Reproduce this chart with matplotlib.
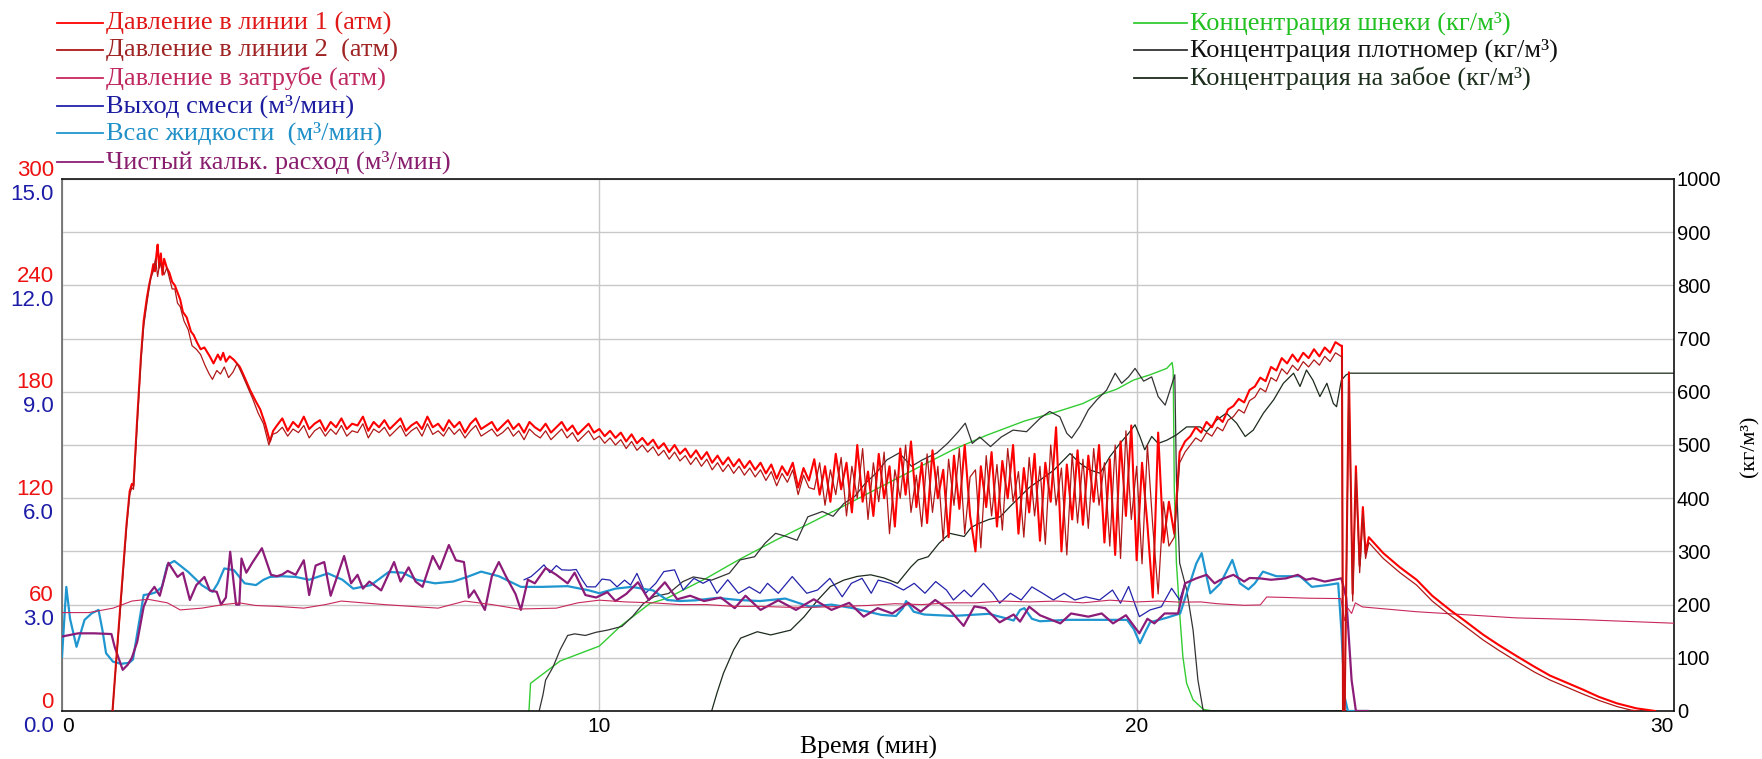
import numpy as np
import matplotlib.pyplot as plt
from matplotlib.lines import Line2D
from matplotlib import transforms

# ---- давление в линии 1 (атм) ----
p1_rise_t = [0.94, 1.0, 1.1, 1.2, 1.26, 1.3, 1.33, 1.4, 1.47, 1.52,
             1.58, 1.62, 1.67, 1.7, 1.73, 1.76, 1.78, 1.81, 1.84, 1.87,
             1.9, 1.95, 2.0, 2.05, 2.1, 2.15, 2.2, 2.25, 2.32, 2.4,
             2.45, 2.51, 2.58, 2.65, 2.75, 2.82, 2.9, 2.95, 3.0, 3.05,
             3.12, 3.2, 3.31, 3.4, 3.5, 3.6, 3.69, 3.78, 3.87, 3.93]
p1_rise = [0, 25, 65, 105, 124, 128, 127, 165, 200, 220,
           233, 240, 247, 252, 248, 258, 263, 250, 258, 246,
           255, 250, 247, 242, 240, 236, 232, 225, 222, 214,
           212, 208, 204, 205, 200, 196, 201, 198, 202, 197,
           200, 198, 194, 188, 181, 175, 170, 162, 152, 158]

# 4.0 ... 23.8 мин, шаг 0.1
p_mid_t = np.round(np.arange(4.0, 23.85, 0.1), 2)
p1_mid = [161, 165, 158, 163, 160, 166, 159, 162, 164, 158,
          163, 160, 165, 159, 162, 161, 166, 158, 163, 160,
          164, 159, 162, 165, 158, 161, 163, 159, 166, 160,
          162, 158, 164, 160, 163, 157, 162, 165, 159, 161,
          163, 158, 161, 164, 159, 162, 157, 163, 160, 158,
          162, 157, 160, 163, 158, 161, 156, 159, 162, 157,
          159, 155, 158, 154, 157, 152, 156, 151, 154, 150,
          153, 148, 151, 146, 150, 145, 148, 143, 147, 142,
          146, 140, 144, 139, 143, 138, 142, 137, 141, 136,
          140, 134, 139, 131, 138, 133, 140, 126, 137, 130,
          142, 122, 138, 118, 145, 125, 140, 112, 150, 118,
          135, 110, 145, 120, 138, 104, 148, 122, 152, 115,
          140, 106, 147, 120, 136, 98, 144, 114, 150, 110,
          90, 138, 115, 146, 104, 141, 120, 150, 100, 137,
          112, 145, 96, 140, 118, 160, 90, 139, 108, 147,
          105, 144, 118, 150, 95, 142, 88, 152, 110, 161,
          85, 140, 105, 64, 157, 95, 118, 100,
          146, 152, 155, 160, 157, 163, 160, 166, 163, 170,
          172, 176, 174, 181, 183, 188, 186, 194, 192, 199,
          196, 201, 197, 202, 199, 204, 200, 205, 202, 208, 206]

p1_tail_t = [23.82, 23.84, 23.87, 23.95, 24.02, 24.08, 24.15, 24.21, 24.26, 24.32,
             24.59, 24.9, 25.21, 25.5, 25.83, 26.1, 26.45, 26.75, 27.07, 27.4,
             27.69, 28.0, 28.31, 28.6, 28.94, 29.3, 29.65]
p1_tail = [206, 0, 0, 191, 66, 138, 82, 115, 89, 98,
           89, 81, 74, 65, 57, 51, 43, 37, 31, 25,
           20, 16, 12, 8, 4.3, 1.5, 0]

# ---- давление в линии 2 (атм) ----
p2_rise_t = [0.94, 1.0, 1.1, 1.2, 1.26, 1.3, 1.33, 1.4, 1.47, 1.52,
             1.58, 1.65, 1.7, 1.74, 1.78, 1.82, 1.86, 1.9, 1.95, 2.0,
             2.05, 2.1, 2.15, 2.2, 2.27, 2.35, 2.42, 2.5, 2.58, 2.66,
             2.74, 2.8, 2.88, 2.95, 3.02, 3.1, 3.18, 3.26, 3.35, 3.45,
             3.55, 3.65, 3.75, 3.85, 3.92]
p2_rise = [0, 24, 63, 103, 122, 126, 125, 162, 198, 217,
           230, 244, 248, 255, 245, 253, 250, 246, 250, 244,
           238, 238, 230, 228, 220, 215, 206, 204, 201, 195,
           190, 187, 192, 190, 194, 188, 191, 196, 190, 183,
           176, 168, 162, 150, 156]
p2_mid = [157, 160, 155, 159, 157, 161, 154, 158, 160, 155,
          159, 156, 161, 155, 158, 157, 162, 154, 159, 157,
          160, 155, 158, 161, 155, 158, 160, 155, 162, 156,
          158, 155, 160, 156, 159, 154, 158, 161, 155, 157,
          159, 155, 157, 160, 155, 158, 153, 159, 156, 154,
          158, 153, 156, 159, 154, 157, 152, 155, 158, 153,
          155, 151, 154, 150, 153, 148, 152, 147, 150, 146,
          149, 144, 147, 142, 146, 141, 144, 139, 143, 138,
          142, 136, 140, 135, 139, 134, 138, 133, 137, 132,
          136, 130, 135, 127, 134, 129, 136, 122, 133, 126,
          125, 140, 116, 136, 122, 143, 110, 138, 120, 148,
          108, 140, 118, 146, 100, 136, 120, 150, 112, 133,
          104, 145, 112, 138, 96, 142, 116, 148, 100, 132,
          136, 92, 144, 110, 139, 102, 148, 118, 135, 98,
          143, 110, 138, 94, 150, 116, 137, 88, 145, 106,
          142, 103, 148, 116, 140, 93, 150, 86, 158, 108,
          138, 83, 150, 104, 66, 118, 93, 98,
          140, 146, 150, 154, 152, 157, 155, 160, 158, 164,
          166, 170, 168, 175, 177, 182, 180, 188, 186, 193,
          190, 195, 192, 197, 194, 198, 195, 200, 197, 202, 200]
p2_tail_t = [23.82, 23.84, 23.87, 23.95, 24.02, 24.08, 24.15, 24.21, 24.26, 24.32,
             24.59, 24.9, 25.21, 25.5, 25.83, 26.1, 26.45, 26.75, 27.07, 27.4,
             27.69, 28.0, 28.31, 28.6, 28.94, 29.2, 29.35]
p2_tail = [200, 0, 0, 186, 62, 134, 78, 111, 86, 95,
           86, 78, 71, 62, 54, 48, 40, 34, 28, 22,
           17.5, 13.5, 9.5, 6, 2.5, 0.5, 0]

# ---- давление в затрубе (атм) ----
ann_t = [0, 0.5, 0.95, 1.3, 1.6, 1.96, 2.2, 2.6, 3.0, 3.3, 3.6, 4.0, 4.5, 4.9, 5.2,
         5.6, 6.0, 6.5, 7.0, 7.5, 8.0, 8.5, 9.2, 9.6, 10.0, 10.5, 11.0, 11.5, 12.0,
         12.5, 13.0, 13.5, 14.0, 14.5, 15.0, 15.5, 16.0, 16.5, 17.0, 17.5, 18.0,
         18.5, 19.0, 19.5, 20.0, 20.4, 20.8, 21.2, 21.5, 22.0, 22.3, 22.42, 22.8,
         23.2, 23.8, 23.87, 23.93, 24.0, 24.07, 24.2, 25.2, 26.0, 27.07, 28.3, 30.0]
ann_p = [55.5, 55.5, 58, 62, 63, 61, 57, 58, 60, 61, 59.5, 59, 58, 60, 62,
         61, 60, 59, 58, 62, 60, 57.5, 58, 61, 62.5, 61.5, 61, 60, 60,
         59, 59, 58.5, 58.5, 59, 59.5, 60.5, 60, 61, 61, 62, 61.5,
         62, 61, 62.5, 61.5, 62, 61.4, 61.5, 60.5, 59.6, 59.8, 64.3, 64,
         63.6, 63.4, 51, 58, 55, 61, 58.7, 56, 54.5, 52.5, 51.5, 49.5]

# ---- выход смеси (м3/мин) ----
mix_t = [8.6, 8.73, 8.85, 8.97, 9.08, 9.2, 9.3, 9.45, 9.57, 9.68, 9.77, 9.93, 10.05,
         10.2, 10.33, 10.47, 10.58, 10.7, 10.86, 11.05, 11.2, 11.4, 11.56, 11.76,
         11.93, 12.05, 12.19, 12.39, 12.59, 12.79, 12.99, 13.13, 13.33, 13.59,
         13.86, 14.06, 14.29, 14.52, 14.69, 14.89, 15.06, 15.19, 15.42, 15.66,
         15.86, 16.06, 16.26, 16.46, 16.59, 16.79, 16.92, 17.15, 17.32, 17.45,
         17.65, 17.85, 18.05, 18.25, 18.45, 18.65, 18.85, 19.05, 19.31, 19.55,
         19.7, 19.85, 20.05, 20.25, 20.46, 20.65, 20.8, 20.9]
mix_q = [3.7, 3.79, 3.95, 4.12, 3.9, 4.1, 3.98, 3.97, 3.99, 3.7, 3.5, 3.5, 3.72,
         3.69, 3.5, 3.69, 3.55, 3.88, 3.32, 3.6, 3.93, 3.98, 3.41, 3.74,
         3.6, 3.7, 3.32, 3.7, 3.32, 3.5, 3.32, 3.6, 3.32, 3.79,
         3.32, 3.41, 3.74, 3.22, 3.6, 3.74, 3.32, 3.69, 3.6, 3.41,
         3.6, 3.32, 3.65, 3.41, 3.13, 3.41, 3.22, 3.6, 3.32, 3.04,
         3.32, 3.13, 3.5, 3.32, 3.13, 3.32, 3.13, 3.22, 3.13, 3.41,
         3.04, 3.51, 2.66, 2.85, 2.94, 3.46, 3.13, 3.6]

# ---- всас жидкости (м3/мин) ----
suc_t = [0.0, 0.08, 0.15, 0.27, 0.42, 0.55, 0.68, 0.75, 0.82, 0.95, 1.1, 1.25, 1.32,
         1.41, 1.52, 1.65, 1.75, 1.86, 1.96, 2.09, 2.2, 2.35, 2.5, 2.6, 2.8, 2.9,
         3.02, 3.2, 3.4, 3.61, 3.75, 3.87, 4.1, 4.35, 4.6, 4.95, 5.22, 5.42, 5.75,
         6.08, 6.34, 6.6, 6.94, 7.28, 7.54, 7.8, 8.13, 8.54, 8.94, 9.41, 9.81, 10.0,
         10.3, 10.6, 11.0, 11.26, 11.5, 11.79, 12.19, 12.59, 12.99, 13.46, 13.92,
         14.32, 14.72, 15.25, 15.52, 15.65, 15.71, 15.85, 16.05, 16.58, 17.25, 17.6,
         17.71, 17.83, 17.91, 18.05, 18.2, 18.7, 19.32, 19.82, 19.95, 20.06, 20.15,
         20.25, 20.56, 20.81, 20.99, 21.11, 21.21, 21.3, 21.37, 21.56, 21.78, 21.92,
         22.08, 22.2, 22.35, 22.6, 23.04, 23.26, 23.54, 23.75, 23.81, 23.87, 23.93, 24.3]
suc_q = [1.53, 3.5, 2.6, 1.81, 2.57, 2.75, 2.85, 2.3, 1.63, 1.39, 1.33, 1.36, 1.45,
         2.28, 3.27, 3.3, 3.35, 3.5, 4.12, 4.23, 4.1, 3.92, 3.7, 3.55, 3.36, 3.6,
         4.02, 3.97, 3.6, 3.55, 3.7, 3.78, 3.8, 3.78, 3.7, 3.88, 3.7, 3.45, 3.55,
         3.92, 3.9, 3.7, 3.6, 3.65, 3.78, 3.93, 3.8, 3.5, 3.5, 3.52, 3.4, 3.32,
         3.45, 3.5, 3.4, 3.13, 3.1, 3.12, 3.19, 3.13, 3.1, 3.17, 2.94,
         3.0, 2.9, 2.71, 2.68, 2.9, 3.1, 2.8, 2.72, 2.68, 2.74, 2.6,
         2.55, 2.85, 2.9, 2.6, 2.53, 2.57, 2.57, 2.57, 2.3, 1.91, 2.2,
         2.5, 2.63, 2.75, 3.6, 4.16, 4.45, 3.8, 3.32, 3.6, 4.26, 3.6,
         3.43, 3.6, 3.93, 3.8, 3.8, 3.5, 3.55, 3.6, 2.28, 0.4, 0.0, 0.0]

# ---- чистый кальк. расход (м3/мин) ----
net_t = [0, 0.3, 0.6, 0.92, 0.98, 1.13, 1.22, 1.3, 1.4, 1.52, 1.62, 1.72, 1.82, 1.98,
         2.15, 2.25, 2.38, 2.5, 2.65, 2.75, 2.88, 2.96, 3.05, 3.13, 3.24, 3.3, 3.34,
         3.43, 3.55, 3.72, 3.89, 4.0, 4.1, 4.2, 4.35, 4.5, 4.6, 4.72, 4.88, 5.0,
         5.25, 5.38, 5.5, 5.6, 5.72, 5.94, 6.18, 6.3, 6.45, 6.58, 6.71, 6.9, 7.03,
         7.2, 7.33, 7.48, 7.57, 7.67, 7.87, 8.0, 8.13, 8.26, 8.44, 8.54, 8.67, 8.8,
         9.0, 9.2, 9.41, 9.54, 9.74, 9.94, 10.15, 10.3, 10.5, 10.72, 10.92, 11.22,
         11.45, 11.69, 11.95, 12.26, 12.52, 12.72, 13.0, 13.33, 13.66, 13.99, 14.32,
         14.65, 14.92, 15.18, 15.45, 15.75, 15.98, 16.25, 16.52, 16.78, 16.98, 17.18,
         17.45, 17.71, 17.83, 18.0, 18.2, 18.58, 18.78, 19.1, 19.35, 19.56, 19.8,
         20.05, 20.2, 20.33, 20.52, 20.77, 20.9, 21.11, 21.3, 21.45, 21.56, 21.8,
         22.0, 22.1, 22.29, 22.5, 22.78, 23.0, 23.15, 23.28, 23.5, 23.81, 23.9, 24.0,
         24.08, 24.3]
net_q = [2.1, 2.19, 2.19, 2.17, 1.81, 1.16, 1.3, 1.5, 1.95, 2.94, 3.3, 3.5, 3.25, 4.18,
         3.78, 3.9, 3.13, 3.55, 3.78, 3.4, 3.36, 3.0, 3.2, 4.49, 3.0, 3.0, 4.3,
         3.9, 4.2, 4.59, 3.84, 3.8, 3.85, 3.95, 3.84, 4.25, 3.27, 4.1, 4.2, 3.25,
         4.37, 3.6, 3.84, 3.45, 3.65, 3.4, 4.2, 3.65, 4.05, 3.65, 3.5, 4.37, 4.0,
         4.68, 4.25, 4.2, 3.2, 3.4, 2.85, 3.8, 4.2, 3.8, 3.3, 2.85, 3.7, 3.6,
         4.03, 3.84, 3.6, 3.9, 3.27, 3.2, 3.35, 3.1, 3.3, 3.63, 3.13, 3.63,
         3.15, 3.25, 3.1, 3.2, 2.9, 3.25, 2.85, 3.12, 2.85, 3.15, 2.85,
         3.05, 2.66, 2.9, 2.75, 3.05, 2.8, 3.13, 2.85, 2.4, 2.95, 2.9,
         2.5, 2.72, 2.52, 2.94, 2.7, 2.47, 2.75, 2.66, 2.75, 2.47, 2.7,
         2.19, 2.6, 2.47, 2.75, 2.75, 3.6, 3.74, 3.84, 3.6, 3.7, 3.84,
         3.65, 3.75, 3.74, 3.7, 3.74, 3.84, 3.7, 3.74, 3.65, 3.74, 3.2, 0.87,
         0.0, 0.0]

# ---- концентрация шнеки (кг/м3) ----
aug_t = [8.69, 8.72, 9.27, 10.0, 10.4, 10.94, 11.26, 12.0, 12.59, 13.3, 13.92, 14.6,
         15.25, 15.9, 16.58, 17.2, 17.91, 18.5, 19.0, 19.32, 19.63, 19.94, 20.25,
         20.56, 20.66, 20.68, 20.7, 20.74, 20.8, 20.86, 20.93, 21.05, 21.24, 21.42, 24.2]
aug_c = [0, 52, 94, 122, 160, 202, 212, 250, 284, 322, 353, 388,
         422, 456, 491, 518, 545, 562, 578, 594, 605, 622, 632,
         644, 655, 640, 420, 278, 184, 102, 52, 21, 3, 0, 0]

# ---- концентрация плотномер (кг/м3) ----
dens_t = [8.88, 8.95, 9.0, 9.14, 9.27, 9.41, 9.54, 9.74, 9.94, 10.15, 10.42, 10.62,
          10.82, 11.02, 11.29, 11.55, 11.75, 12.09, 12.42, 12.62, 12.89, 13.08, 13.28,
          13.48, 13.68, 13.88, 14.15, 14.35, 14.55, 14.75, 14.95, 15.15, 15.35, 15.58,
          15.81, 16.01, 16.28, 16.48, 16.68, 16.81, 16.94, 17.08, 17.28, 17.48, 17.7,
          17.95, 18.2, 18.38, 18.57, 18.7, 18.79, 18.94, 19.1, 19.26, 19.44, 19.6,
          19.72, 19.85, 19.97, 20.13, 20.28, 20.4, 20.53, 20.62, 20.71, 20.74, 20.8,
          20.93, 21.05, 21.14, 21.24, 24.2]
dens_c = [0, 30, 58, 83, 115, 142, 145, 142, 148, 152, 159, 178,
          202, 215, 221, 243, 252, 246, 259, 284, 290, 315, 334,
          328, 321, 365, 375, 366, 390, 403, 428, 447, 472, 485,
          460, 472, 485, 503, 525, 541, 503, 515, 497, 515, 528,
          525, 550, 563, 553, 522, 513, 535, 566, 585, 603, 635,
          616, 628, 644, 620, 628, 591, 575, 603, 632, 434, 278,
          228, 152, 58, 0, 0]

# ---- концентрация на забое (кг/м3) ----
bot_t = [12.09, 12.19, 12.31, 12.5, 12.63, 12.94, 13.19, 13.56, 13.81, 14.06, 14.3,
         14.55, 14.8, 15.05, 15.3, 15.55, 15.8, 15.93, 16.12, 16.32, 16.52, 16.79,
         16.92, 17.05, 17.25, 17.46, 17.65, 17.83, 18.0, 18.2, 18.45, 18.76, 18.94,
         19.13, 19.32, 19.5, 19.69, 19.85, 19.97, 20.06, 20.15, 20.28, 20.4, 20.56,
         20.74, 20.93, 21.18, 21.3, 21.49, 21.67, 21.86, 22.02, 22.17, 22.36, 22.55,
         22.73, 22.92, 23.04, 23.16, 23.28, 23.41, 23.54, 23.66, 23.72, 23.81, 23.9,
         23.97, 30.0]
bot_c = [0, 34, 71, 115, 137, 149, 143, 152, 177, 208, 234,
         246, 253, 256, 250, 240, 271, 284, 290, 315, 334, 328,
         345, 352, 360, 365, 385, 403, 420, 434, 452, 484, 466,
         453, 447, 478, 503, 522, 538, 516, 491, 516, 503, 509,
         519, 534, 534, 525, 547, 560, 541, 516, 528, 560, 585,
         616, 635, 610, 641, 622, 591, 616, 578, 572, 622, 632,
         635, 635]

# подписи осей
p_ticks = [0, 60, 120, 180, 240, 300]
q_ticks = [0.0, 3.0, 6.0, 9.0, 12.0, 15.0]
c_ticks = list(range(0, 1001, 100))
t_ticks = [0, 10, 20, 30]

legend_left = [('Давление в линии 1 (атм)', '#ff0000', '#e01818'),
               ('Давление в линии 2  (атм)', '#b01818', '#a02424'),
               ('Давление в затрубе (атм)', '#c8285a', '#c02860'),
               ('Выход смеси (м³/мин)', '#2222aa', '#1c1ca0'),
               ('Всас жидкости  (м³/мин)', '#2096d0', '#2090c8'),
               ('Чистый кальк. расход (м³/мин)', '#8c1c78', '#8a1e6e')]
legend_right = [('Концентрация шнеки (кг/м³)', '#33cc33', '#22c022'),
                ('Концентрация плотномер (кг/м³)', '#333333', '#111111'),
                ('Концентрация на забое (кг/м³)', '#1c2a1c', '#1c2e1c')]

SERIF = ['Liberation Serif', 'DejaVu Serif']
SANS = ['Liberation Sans', 'DejaVu Sans']

W, H = 1762, 759
fig = plt.figure(figsize=(W / 100, H / 100), dpi=100)
ax_c = fig.add_axes([62 / W, 1 - 711 / H, (1674 - 62) / W, (711 - 179) / H])
ax_q = ax_c.twinx()
ax_p = ax_c.twinx()

# сетка и правая шкала концентрации
ax_c.set_xlim(0, 30)
ax_c.set_ylim(0, 1000)
ax_c.set_yticks(c_ticks)
ax_c.set_xticks(t_ticks)
ax_c.grid(True, color='#c8c8c8', lw=1.0)
ax_c.set_axisbelow(True)
ax_c.yaxis.tick_right()
ax_c.tick_params(axis='y', length=0, pad=2, labelsize=14.5)
ax_c.tick_params(axis='x', length=0, pad=4, labelsize=15)
for lab in ax_c.get_xticklabels() + ax_c.get_yticklabels():
    lab.set_family(SANS)
xl = ax_c.get_xticklabels()
xl[0].set_ha('left')
xl[-1].set_ha('right')
for side in ['top', 'bottom', 'right']:
    ax_c.spines[side].set_color('#111111')
    ax_c.spines[side].set_linewidth(1.2)
ax_c.spines['left'].set_color('#666666')
ax_c.spines['left'].set_linewidth(1.2)

for a in (ax_q, ax_p):
    a.set_yticks([])
    for s in a.spines.values():
        s.set_visible(False)
ax_q.set_ylim(0, 15)
ax_p.set_ylim(0, 300)

# концентрации
ax_c.plot(aug_t, aug_c, color='#33cc33', lw=1.0)
ax_c.plot(dens_t, dens_c, color='#333333', lw=0.9)
ax_c.plot(bot_t, bot_c, color='#1c2a1c', lw=0.9)

# расходы
ax_q.plot(mix_t, mix_q, color='#2222aa', lw=0.9)
ax_q.plot(suc_t, suc_q, color='#2096d0', lw=1.6)
ax_q.plot(net_t, net_q, color='#8c1c78', lw=1.6)

# давления
ax_p.plot(ann_t, ann_p, color='#c8285a', lw=0.8)
p2_t = np.concatenate([p2_rise_t, p_mid_t, p2_tail_t])
p2 = np.concatenate([p2_rise, p2_mid, p2_tail])
p1_t = np.concatenate([p1_rise_t, p_mid_t, p1_tail_t])
p1 = np.concatenate([p1_rise, p1_mid, p1_tail])
ax_p.plot(p1_t, p1, color='#ff0000', lw=1.5)
ax_p.plot(p2_t, p2, color='#b01818', lw=0.9)

# левые подписи: давление (красным) и расход (синим)
tr_p = transforms.blended_transform_factory(ax_p.transAxes, ax_p.transData)
tr_q = transforms.blended_transform_factory(ax_q.transAxes, ax_q.transData)
tr_p = transforms.offset_copy(tr_p, fig=fig, x=-8, y=9, units='dots')
tr_q = transforms.offset_copy(tr_q, fig=fig, x=-8, y=-15, units='dots')
for p in p_ticks:
    ax_p.text(0, p, str(p), transform=tr_p, ha='right', va='center',
              color='#ee1111', fontsize=16, family=SANS)
for q in q_ticks:
    ax_q.text(0, q, '%.1f' % q, transform=tr_q, ha='right', va='center',
              color='#1c1ca8', fontsize=16, family=SANS)

ax_c.set_xlabel('Время (мин)', family=SERIF, fontsize=18.5, labelpad=0)
fig.text(1750 / W, 1 - 446 / H, '(кг/м³)', rotation=90, ha='center', va='center',
         family=SERIF, fontsize=16)

# легенда
rows = [23, 50, 78, 106, 133, 162]
for (label, lc, tc), y in zip(legend_left, rows):
    fig.add_artist(Line2D([57 / W, 103 / W], [1 - y / H] * 2, color=lc, lw=1.3))
    fig.text(106 / W, 1 - y / H, label, color=tc, family=SERIF, fontsize=19,
             ha='left', va='center')
for (label, lc, tc), y in zip(legend_right, rows[:3]):
    fig.add_artist(Line2D([1134 / W, 1187 / W], [1 - y / H] * 2, color=lc, lw=1.3))
    fig.text(1190 / W, 1 - y / H, label, color=tc, family=SERIF, fontsize=19,
             ha='left', va='center')

fig.savefig('out.png', dpi=100)
